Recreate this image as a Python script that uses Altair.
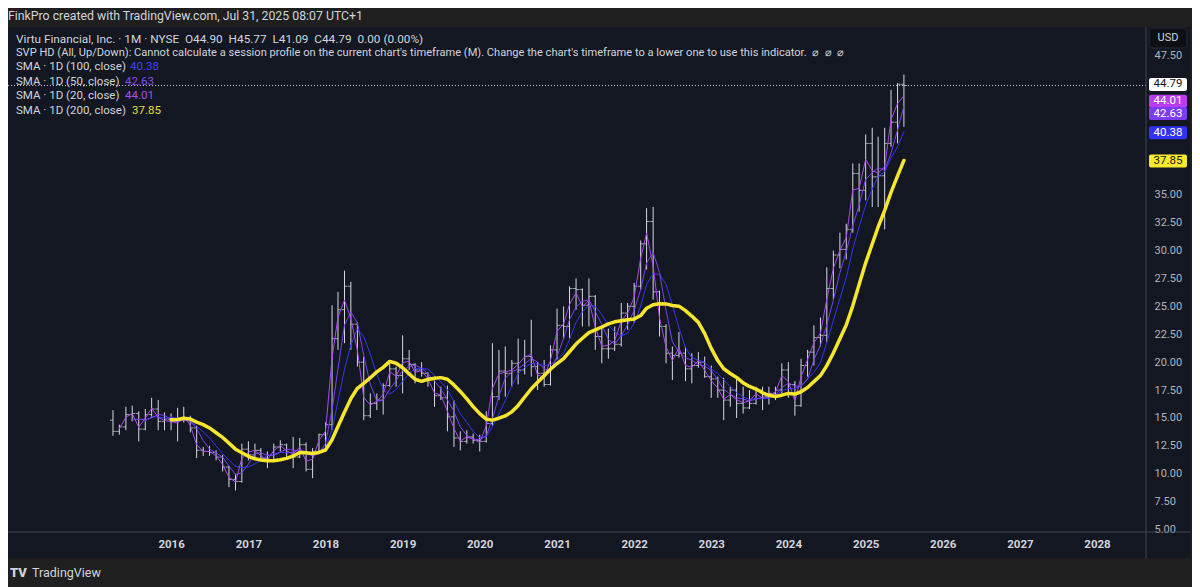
import altair as alt
import pandas as pd

# ---------------- data (monthly OHLC) ----------------
month_starts = pd.date_range("2015-04-01", "2025-07-01", freq="MS").strftime("%Y-%m-%d").tolist()

opens = [
    14.8, 13.8, 14.2, 15.3, 15.4, 14.0, 15.3, 15.8, 14.7,
    14.9, 14.7, 14.8, 15.0, 14.1, 12.1, 12.0, 11.9, 11.5, 10.6, 9.5, 9.3,
    12.2, 11.7, 12.1, 11.4, 11.2, 12.4, 12.6, 11.9, 11.5, 12.6, 10.4, 12.0,
    13.5, 14.4, 22.1, 24.7, 26.8, 23.4, 20.0, 15.2, 16.3, 16.6, 17.9, 19.4,
    18.8, 20.3, 19.8, 19.3, 19.0, 18.6, 17.0, 16.8, 15.1, 13.2, 12.9, 13.3,
    13.0, 12.9, 14.5, 16.9, 19.2, 19.0, 19.9, 19.3, 20.5, 19.6, 19.0, 18.0,
    21.1, 23.3, 23.2, 26.6, 26.5, 25.1, 25.9, 22.3, 21.2, 21.2, 21.6, 24.4,
    25.0, 26.8, 30.6, 32.6, 26.3, 23.2, 20.8, 20.6, 20.8, 19.4, 19.7, 20.0,
    18.7, 18.5, 17.5, 16.6, 17.5, 16.3, 15.9, 16.3, 17.5, 16.8, 17.2, 17.5,
    19.3, 18.0, 16.1, 19.7, 20.9, 22.2, 22.4, 26.6, 29.6, 30.1, 31.9, 36.9,
    35.4, 39.6, 36.6, 36.7, 39.6, 41.5, 44.90,
]
highs = [
    15.7, 14.4, 16.0, 16.1, 15.6, 15.8, 16.8, 16.6, 15.5,
    15.4, 15.9, 16.0, 15.2, 14.3, 12.4, 12.5, 12.1, 11.7, 10.7, 10.0, 12.7,
    12.9, 12.7, 12.3, 12.0, 12.7, 13.0, 12.7, 13.3, 13.2, 12.8, 12.3, 13.6,
    14.6, 25.1, 26.3, 28.2, 27.2, 23.6, 20.5, 17.2, 17.2, 18.1, 20.2, 19.6,
    22.4, 21.1, 19.9, 20.0, 19.1, 18.7, 17.8, 17.9, 16.6, 13.8, 13.9, 13.6,
    13.5, 15.6, 21.7, 21.1, 21.4, 20.2, 22.1, 22.0, 23.8, 20.0, 20.2, 21.5,
    24.8, 25.0, 26.8, 27.5, 26.6, 27.5, 26.0, 23.2, 23.0, 23.2, 25.3, 25.3,
    27.1, 30.9, 33.8, 33.9, 26.4, 23.4, 21.4, 22.7, 21.4, 20.8, 20.9, 20.5,
    19.7, 18.7, 18.6, 17.8, 18.6, 17.8, 17.5, 17.8, 17.8, 17.8, 17.8, 19.9,
    20.0, 18.3, 20.3, 21.1, 23.3, 24.0, 28.5, 30.0, 31.6, 32.4, 37.8, 37.8,
    40.4, 41.0, 40.2, 41.0, 44.4, 45.0, 45.77,
]
lows = [
    13.4, 13.5, 13.9, 14.7, 12.9, 13.9, 15.0, 13.9, 13.9,
    13.9, 12.9, 14.6, 13.7, 11.4, 11.6, 11.6, 11.2, 10.2, 8.8, 8.5, 9.2,
    11.2, 11.5, 11.1, 10.5, 11.1, 12.0, 11.5, 10.5, 11.4, 10.2, 9.6, 11.9,
    12.4, 13.9, 21.1, 21.7, 21.1, 19.6, 14.8, 15.0, 15.7, 15.3, 17.8, 17.8,
    17.2, 19.3, 18.1, 18.7, 17.8, 16.0, 16.6, 13.8, 12.4, 12.1, 12.7, 12.7,
    12.0, 12.8, 14.3, 16.6, 16.9, 17.8, 18.0, 18.9, 18.7, 17.5, 17.8, 17.9,
    20.2, 22.1, 22.1, 24.7, 23.2, 23.2, 21.1, 19.9, 20.3, 21.0, 21.4, 22.9,
    23.5, 26.5, 28.3, 25.6, 22.3, 19.9, 18.4, 20.4, 18.3, 18.1, 19.5, 18.6,
    16.8, 16.8, 14.8, 16.0, 15.0, 15.4, 15.8, 16.2, 15.7, 16.2, 16.6, 17.2,
    16.8, 15.2, 16.0, 18.7, 19.7, 21.4, 21.8, 25.6, 28.4, 29.2, 31.6, 33.5,
    34.5, 33.9, 33.9, 31.9, 39.3, 39.6, 41.09,
]
closes = [
    13.8, 14.2, 15.3, 15.4, 14.0, 15.3, 15.8, 14.7, 14.9,
    14.7, 14.8, 15.0, 14.1, 12.1, 12.0, 11.9, 11.5, 10.6, 9.5, 9.3, 12.2,
    11.7, 12.1, 11.4, 11.2, 12.4, 12.6, 11.9, 11.5, 12.6, 10.4, 12.0, 13.5,
    14.4, 22.1, 24.7, 26.8, 23.4, 20.0, 15.2, 16.3, 16.6, 17.9, 19.4, 18.8,
    20.3, 19.8, 19.3, 19.0, 18.6, 17.0, 16.8, 15.1, 13.2, 12.9, 13.3, 13.0,
    12.9, 14.5, 16.9, 19.2, 19.0, 19.9, 19.3, 20.5, 19.6, 19.0, 18.0, 21.1,
    23.3, 23.2, 26.6, 26.5, 25.1, 25.9, 22.3, 21.2, 21.2, 21.6, 24.4, 25.0,
    26.8, 30.6, 32.6, 26.3, 23.2, 20.8, 20.6, 20.8, 19.4, 19.7, 20.0, 18.7,
    18.5, 17.5, 16.6, 17.5, 16.3, 15.9, 16.3, 17.5, 16.8, 17.2, 17.5, 19.3,
    18.0, 16.1, 19.7, 20.9, 22.2, 22.4, 26.6, 29.6, 30.1, 31.9, 36.9, 35.4,
    39.6, 36.6, 36.7, 39.6, 41.5, 44.9, 44.79,
]

year_ticks = list(range(2016, 2029))
# 37.50 - 45.00 sit under the price tags on the scale, so they are not labelled
price_ticks = [5.0, 7.5, 10.0, 12.5, 15.0, 17.5, 20.0, 22.5, 25.0, 27.5, 30.0, 32.5, 35.0, 47.5]

sma_names = ["SMA · 1D (100, close)", "SMA · 1D (50, close)", "SMA · 1D (20, close)", "SMA · 1D (200, close)"]
sma_last = [40.38, 42.63, 44.01, 37.85]
last_price = 44.79

# ---------------- styling ----------------
FONT = "Roboto"
NAVY = "#131722"
GRAY = "#1f1f1f"
TXT = "#d1d4dc"
BAR = "#d6d9e0"
SEP = "#434651"
C100 = "#3434f2"
C50 = "#7c40f2"
C20 = "#b048ee"
C200 = "#f7e62c"

W, H = 1138, 505
PANEL_R = 1182
BOTTOM = 531

ohlc = pd.DataFrame({"date": month_starts, "open": opens, "high": highs,
                     "low": lows, "close": closes})
one = pd.DataFrame({"k": [0]})

x_scale = alt.Scale(type="utc", domain=[alt.DateTime(year=2013, month=11, date=20, utc=True),
                                       alt.DateTime(year=2028, month=8, date=20, utc=True)])
y_scale = alt.Scale(domain=[4.78, 50.03], nice=False, zero=False)

x_axis = alt.Axis(values=[alt.DateTime(year=y, month=1, date=1, utc=True) for y in year_ticks],
                  format="%Y", orient="bottom", labelFont=FONT, labelFontSize=11.5,
                  labelFontWeight="bold", labelColor=TXT, labelPadding=6, ticks=False,
                  domain=False, grid=False, title=None, labelOverlap=False, labelFlush=False)
y_axis = alt.Axis(values=price_ticks, format=".2f", orient="right", labelFont=FONT,
                  labelFontSize=11, labelColor="#b2b5be", labelAlign="left", labelPadding=8,
                  ticks=False, domain=False, grid=False, title=None, labelOverlap=False,
                  labelFlush=False)


def X(field):
    return alt.X(field, type="temporal", scale=x_scale, axis=x_axis)


def Y(field):
    return alt.Y(field, type="quantitative", scale=y_scale, axis=y_axis)


# ---------------- background strips ----------------
strips = [
    alt.Chart(one).mark_rect(color=GRAY).encode(x=alt.value(-2), x2=alt.value(1190),
                                                 y=alt.value(-20), y2=alt.value(0)),
    alt.Chart(one).mark_rect(color=GRAY).encode(x=alt.value(-2), x2=alt.value(1190),
                                                 y=alt.value(BOTTOM), y2=alt.value(565)),
    alt.Chart(one).mark_rect(color=GRAY).encode(x=alt.value(PANEL_R), x2=alt.value(1190),
                                                 y=alt.value(-20), y2=alt.value(565)),
]

# ---------------- OHLC bars ----------------
base = alt.Chart(ohlc)
hl = base.mark_rule(color=BAR, strokeWidth=1).encode(x=X("date"), y=Y("low"), y2="high:Q")
op = base.mark_tick(color=BAR, orient="horizontal", size=3, thickness=1, xOffset=-1.5).encode(
    x=X("date"), y=Y("open"))
cl = base.mark_tick(color=BAR, orient="horizontal", size=3, thickness=1, xOffset=1.5).encode(
    x=X("date"), y=Y("close"))


# ---------------- SMA lines (window means of the monthly typical price) ----------------
def sma_line(start, first_row, color, width):
    return (
        base.transform_calculate(tp="(datum.high + datum.low + datum.close) / 3")
        .transform_window(idx="row_number()", sort=[alt.SortField("date")])
        .transform_window(sma="mean(tp)", frame=[start, 0], sort=[alt.SortField("date")])
        .transform_filter(alt.datum.idx >= first_row)
        .mark_line(color=color, strokeWidth=width, strokeCap="round", strokeJoin="round")
        .encode(x=X("date"), y=Y("sma"))
    )


lines = [
    sma_line(-4, 6, C100, 1),
    sma_line(-2, 4, C50, 1),
    sma_line(0, 2, C20, 1),
    sma_line(-9, 10, C200, 3.5),
]

last_rule = alt.Chart(pd.DataFrame({"p": [last_price]})).mark_rule(
    color="#c8cbd4", strokeDash=[1, 2], strokeWidth=1).encode(y=Y("p"))

seps = [
    alt.Chart(one).mark_rule(color=SEP, strokeWidth=1).encode(
        x=alt.value(W), y=alt.value(0), y2=alt.value(BOTTOM)),
    alt.Chart(one).mark_rule(color=SEP, strokeWidth=1).encode(
        y=alt.value(H), x=alt.value(0), x2=alt.value(PANEL_R)),
]

# ---------------- price labels on the right scale ----------------
label_vals = [last_price, sma_last[2], sma_last[1], sma_last[0], sma_last[3]]
label_fill = ["#ffffff", "#b83cf0", "#7b3cf4", "#3232f5", "#f7e92c"]
label_text = [NAVY, "#ffffff", "#ffffff", "#ffffff", NAVY]
label_shift = [-1, 7, 4, -2, -2]
price_tags = []
for v, f, t, s in zip(label_vals, label_fill, label_text, label_shift):
    d = pd.DataFrame({"p": [v], "t": [f"{v:.2f}"]})
    price_tags.append(alt.Chart(d).mark_tick(orient="horizontal", size=38, thickness=13,
                                             color=f, yOffset=s, cornerRadius=2, opacity=1).encode(
        x=alt.value(1160), y=Y("p")))
    price_tags.append(alt.Chart(d).mark_text(font=FONT, fontSize=11.5, color=t, align="center",
                                             baseline="middle", yOffset=s).encode(
        x=alt.value(1160), y=Y("p"), text="t:N"))

usd = [
    alt.Chart(one).mark_rect(color="#0d0f15", stroke="#262a35", cornerRadius=4).encode(
        x=alt.value(1141), x2=alt.value(1179), y=alt.value(1), y2=alt.value(21)),
    alt.Chart(pd.DataFrame({"t": ["USD"]})).mark_text(font=FONT, fontSize=11, color=TXT,
                                                      align="center", baseline="middle").encode(
        x=alt.value(1160), y=alt.value(11), text="t:N"),
]


# ---------------- texts ----------------
def txt(s, x, y, color=TXT, size=11.5, weight="normal", align="left"):
    return alt.Chart(pd.DataFrame({"t": [s]})).mark_text(
        font=FONT, fontSize=size, fontWeight=weight, color=color, align=align,
        baseline="middle").encode(x=alt.value(x), y=alt.value(y), text="t:N")


SP = "\u00a0"
o, h, l, c = opens[-1], highs[-1], lows[-1], closes[-1]
legend = [
    txt(f"Virtu Financial, Inc. · 1M · NYSE{SP}{SP}O{o:.2f}{SP}{SP}H{h:.2f}{SP}{SP}L{l:.2f}"
        f"{SP}{SP}C{c:.2f}{SP}{SP}0.00 (0.00%)", 8, 12, size=11.8),
    txt("SVP HD (All, Up/Down): Cannot calculate a session profile on the current chart's timeframe (M). "
        f"Change the chart's timeframe to a lower one to use this indicator.{SP}{SP}⌀{SP}{SP}⌀{SP}{SP}⌀",
        8, 26, size=11.1),
]
ys = [40, 54.5, 69, 83.5]
vx = [122, 117, 117, 124]
vcol = ["#4040f5", "#8a48f5", "#a94fe8", "#e8de3c"]
for name, val, yy, xx, col in zip(sma_names, sma_last, ys, vx, vcol):
    legend.append(txt(name, 8, yy))
    legend.append(txt(f"{val:.2f}", xx, yy, color=col))

header = txt("FinkPro created with TradingView.com, Jul 31, 2025 08:07 UTC+1", 0, -11, size=12.3)
footer = [
    txt("TV", 2, 546, color=TXT, size=13, weight=900),
    txt("TradingView", 24, 546, color=TXT, size=12.5),
]

chart = alt.layer(
    *strips, hl, op, cl, *lines, last_rule, *seps, *price_tags, *usd, *legend, header, *footer
).properties(
    width=W, height=H,
    autosize=alt.AutoSizeParams(type="none"),
    padding={"left": 0, "top": 19, "right": 46, "bottom": 55},
    background=NAVY,
).configure_view(stroke=None)

chart.save("out.html", embed_options={"renderer": "svg", "actions": False})
